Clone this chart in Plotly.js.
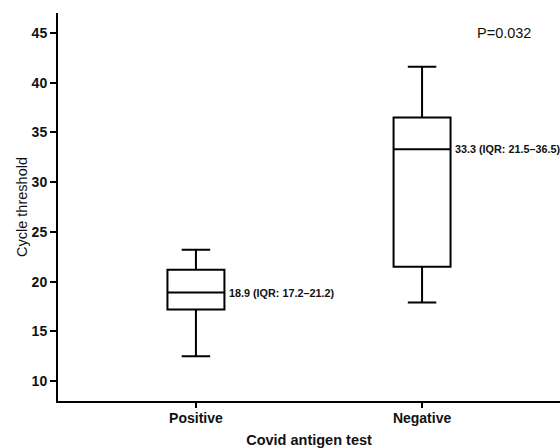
<!DOCTYPE html>
<html>
<head>
<meta charset="utf-8">
<script src="https://cdn.plot.ly/plotly-3.0.1.min.js"></script>
<style>html,body{margin:0;padding:0;background:#fff;}#chart{width:560px;height:448px;}</style>
</head>
<body>
<div id="chart"></div>
<script>
const categories = ['Positive', 'Negative'];
const lowerWhisker = [12.5, 17.9];
const q1 = [17.2, 21.5];
const median = [18.9, 33.3];
const q3 = [21.2, 36.5];
const upperWhisker = [23.2, 41.6];
const boxLabels = ['18.9 (IQR: 17.2\u201321.2)', '33.3 (IQR: 21.5\u201336.5)'];
const pText = 'P=0.032';
const yTicks = [10, 15, 20, 25, 30, 35, 40, 45];

const font = 'Liberation Sans, Arial, sans-serif';

const trace = {
  type: 'box',
  x: categories,
  q1: q1,
  median: median,
  q3: q3,
  lowerfence: lowerWhisker,
  upperfence: upperWhisker,
  width: 0.252,
  whiskerwidth: 0.5,
  fillcolor: '#ffffff',
  line: {color: '#000000', width: 2},
  boxpoints: false,
  hoverinfo: 'skip',
  showlegend: false
};

const annotations = categories.map((c, i) => ({
  x: i + 0.14,
  y: median[i],
  xref: 'x',
  yref: 'y',
  text: '<b>' + boxLabels[i] + '</b>',
  showarrow: false,
  xanchor: 'left',
  yanchor: 'middle',
  xshift: -1,
  font: {family: font, size: 10.8, color: '#111'}
}));
annotations.push({
  x: 1.5,
  y: 45,
  xref: 'x',
  yref: 'y',
  text: pText,
  showarrow: false,
  xanchor: 'center',
  yanchor: 'middle',
  xshift: -31,
  font: {family: font, size: 14.5, color: '#111'}
});

const layout = {
  width: 560,
  height: 448,
  margin: {l: 58, r: 0, t: 13, b: 47, pad: 0},
  paper_bgcolor: '#ffffff',
  plot_bgcolor: '#ffffff',
  font: {family: font, color: '#111'},
  xaxis: {
    type: 'category',
    range: [-0.61, 1.61],
    showline: true,
    linecolor: '#000',
    linewidth: 2,
    ticks: 'outside',
    ticklen: 5,
    tickwidth: 2,
    tickcolor: '#000',
    ticklabelstandoff: -2,
    showgrid: false,
    zeroline: false,
    tickfont: {family: font, size: 14, color: '#111', weight: 'bold'},
    title: {text: 'Covid antigen test', font: {family: font, size: 14.5, color: '#111', weight: 'bold'}, standoff: 11}
  },
  yaxis: {
    range: [8, 47],
    tickvals: yTicks,
    showline: true,
    linecolor: '#000',
    linewidth: 2,
    ticks: 'outside',
    ticklen: 6,
    tickwidth: 2,
    tickcolor: '#000',
    showgrid: false,
    zeroline: false,
    tickfont: {family: font, size: 14, color: '#111', weight: 'bold'},
    title: {text: 'Cycle threshold', font: {family: font, size: 14.5, color: '#111'}, standoff: 1}
  },
  annotations: annotations
};

Plotly.newPlot('chart', [trace], layout, {displayModeBar: false, staticPlot: true});
</script>
</body>
</html>
